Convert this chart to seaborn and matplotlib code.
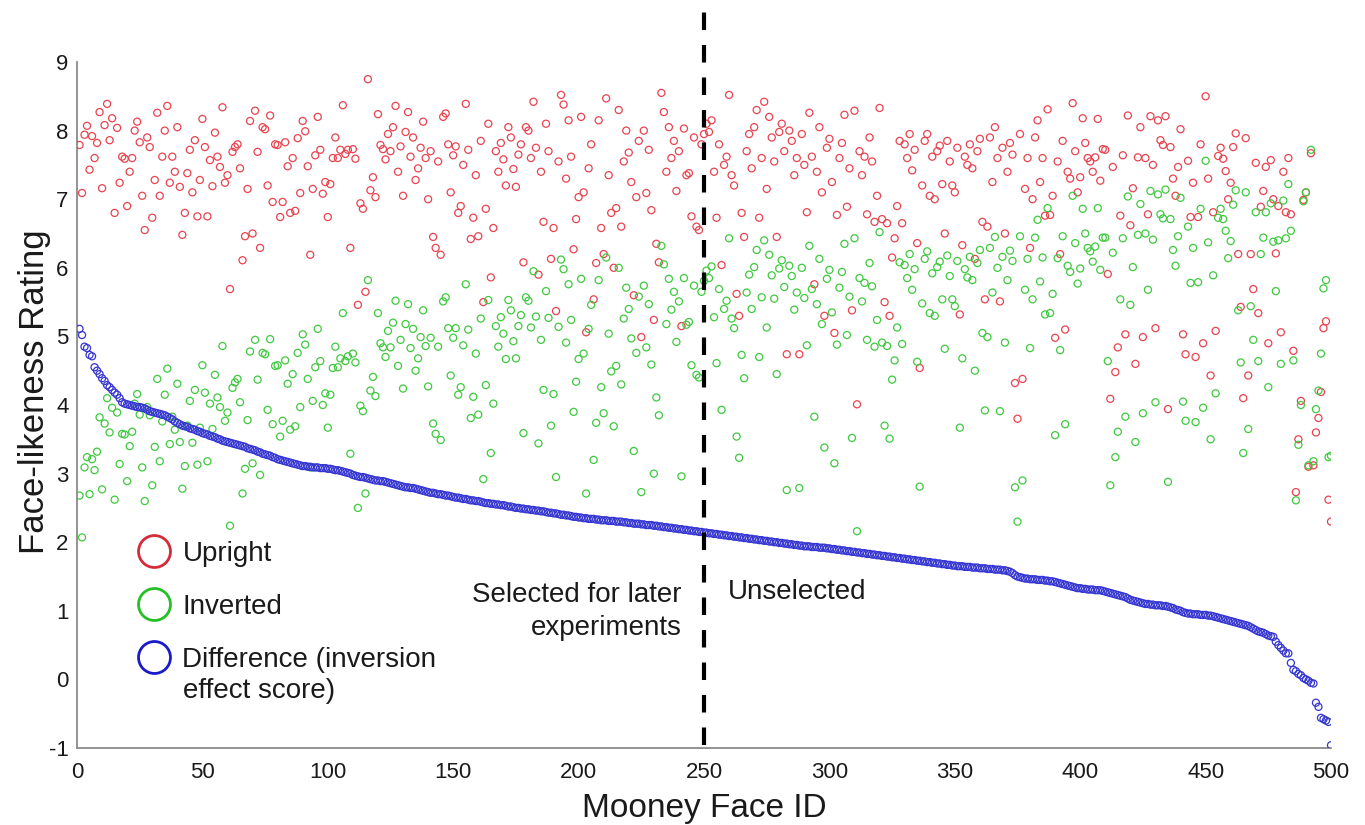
import numpy as np
import pandas as pd
import matplotlib
matplotlib.use("Agg")
import matplotlib.pyplot as plt
from matplotlib.lines import Line2D
import seaborn as sns

# ---------------- data ----------------
# inversion-effect score (upright - inverted), faces ordered by this score
difference = [
    5.11, 5.02, 4.85, 4.83, 4.73, 4.71, 4.55, 4.50, 4.45, 4.39,
    4.35, 4.29, 4.26, 4.22, 4.18, 4.15, 4.10, 4.04, 4.02, 4.01,
    4.00, 3.99, 3.98, 3.97, 3.97, 3.96, 3.95, 3.93, 3.91, 3.90,
    3.89, 3.88, 3.87, 3.86, 3.85, 3.83, 3.81, 3.79, 3.76, 3.74,
    3.72, 3.70, 3.69, 3.68, 3.66, 3.65, 3.64, 3.62, 3.61, 3.59,
    3.58, 3.57, 3.55, 3.54, 3.53, 3.51, 3.50, 3.48, 3.47, 3.46,
    3.45, 3.44, 3.43, 3.42, 3.41, 3.40, 3.39, 3.37, 3.36, 3.35,
    3.34, 3.32, 3.31, 3.29, 3.28, 3.27, 3.26, 3.24, 3.23, 3.21,
    3.20, 3.19, 3.18, 3.17, 3.16, 3.15, 3.14, 3.13, 3.12, 3.11,
    3.11, 3.10, 3.10, 3.09, 3.09, 3.09, 3.08, 3.08, 3.08, 3.07,
    3.07, 3.06, 3.05, 3.05, 3.04, 3.03, 3.02, 3.01, 3.00, 2.98,
    2.97, 2.96, 2.95, 2.95, 2.94, 2.93, 2.92, 2.91, 2.90, 2.90,
    2.89, 2.89, 2.88, 2.87, 2.86, 2.85, 2.84, 2.83, 2.82, 2.81,
    2.80, 2.80, 2.79, 2.79, 2.78, 2.77, 2.76, 2.75, 2.74, 2.73,
    2.72, 2.72, 2.71, 2.70, 2.70, 2.69, 2.68, 2.68, 2.67, 2.66,
    2.65, 2.65, 2.64, 2.63, 2.63, 2.62, 2.61, 2.61, 2.60, 2.60,
    2.59, 2.58, 2.57, 2.57, 2.56, 2.56, 2.55, 2.55, 2.54, 2.54,
    2.53, 2.52, 2.52, 2.51, 2.50, 2.50, 2.49, 2.49, 2.48, 2.48,
    2.47, 2.47, 2.46, 2.46, 2.45, 2.45, 2.44, 2.43, 2.43, 2.42,
    2.42, 2.41, 2.40, 2.40, 2.39, 2.39, 2.38, 2.37, 2.37, 2.36,
    2.36, 2.35, 2.35, 2.34, 2.34, 2.34, 2.33, 2.33, 2.32, 2.32,
    2.32, 2.31, 2.31, 2.31, 2.30, 2.30, 2.30, 2.29, 2.29, 2.28,
    2.28, 2.27, 2.27, 2.27, 2.26, 2.26, 2.25, 2.25, 2.25, 2.24,
    2.24, 2.23, 2.23, 2.22, 2.22, 2.21, 2.21, 2.20, 2.20, 2.19,
    2.19, 2.18, 2.18, 2.17, 2.17, 2.16, 2.16, 2.15, 2.15, 2.14,
    2.14, 2.13, 2.13, 2.12, 2.12, 2.11, 2.11, 2.10, 2.10, 2.09,
    2.09, 2.08, 2.08, 2.07, 2.07, 2.06, 2.06, 2.05, 2.05, 2.04,
    2.04, 2.03, 2.03, 2.02, 2.02, 2.01, 2.01, 2.00, 2.00, 1.99,
    1.99, 1.98, 1.98, 1.97, 1.97, 1.96, 1.96, 1.95, 1.95, 1.94,
    1.94, 1.94, 1.93, 1.93, 1.93, 1.92, 1.92, 1.92, 1.91, 1.91,
    1.90, 1.90, 1.89, 1.89, 1.88, 1.88, 1.87, 1.87, 1.86, 1.86,
    1.85, 1.85, 1.84, 1.84, 1.83, 1.83, 1.82, 1.82, 1.81, 1.81,
    1.80, 1.80, 1.79, 1.79, 1.78, 1.78, 1.77, 1.77, 1.76, 1.76,
    1.75, 1.75, 1.74, 1.74, 1.73, 1.73, 1.72, 1.72, 1.71, 1.71,
    1.70, 1.70, 1.69, 1.69, 1.68, 1.68, 1.67, 1.67, 1.66, 1.66,
    1.65, 1.65, 1.65, 1.64, 1.64, 1.64, 1.63, 1.63, 1.63, 1.62,
    1.62, 1.62, 1.61, 1.61, 1.61, 1.60, 1.60, 1.60, 1.59, 1.59,
    1.58, 1.57, 1.55, 1.52, 1.50, 1.49, 1.48, 1.47, 1.47, 1.46,
    1.46, 1.46, 1.45, 1.45, 1.45, 1.44, 1.44, 1.43, 1.43, 1.42,
    1.41, 1.40, 1.39, 1.38, 1.37, 1.36, 1.35, 1.34, 1.33, 1.33,
    1.32, 1.32, 1.31, 1.31, 1.31, 1.30, 1.30, 1.30, 1.29, 1.28,
    1.27, 1.26, 1.25, 1.24, 1.23, 1.22, 1.21, 1.20, 1.18, 1.16,
    1.15, 1.14, 1.13, 1.12, 1.11, 1.10, 1.10, 1.09, 1.09, 1.08,
    1.08, 1.08, 1.07, 1.07, 1.06, 1.05, 1.04, 1.02, 1.01, 1.00,
    0.98, 0.97, 0.96, 0.96, 0.95, 0.95, 0.95, 0.94, 0.94, 0.94,
    0.93, 0.93, 0.92, 0.91, 0.90, 0.89, 0.88, 0.87, 0.86, 0.85,
    0.84, 0.83, 0.82, 0.81, 0.80, 0.79, 0.78, 0.76, 0.74, 0.72,
    0.70, 0.69, 0.68, 0.66, 0.64, 0.63, 0.62, 0.55, 0.50, 0.46,
    0.42, 0.38, 0.38, 0.24, 0.14, 0.12, 0.08, 0.06, 0.02, 0.00,
    -0.02, -0.05, -0.06, -0.34, -0.40, -0.56, -0.58, -0.60, -0.62, -0.96,
]

# face-likeness rating of the upright image, same face order
upright = [
    7.79, 7.09, 7.94, 8.07, 7.43, 7.92, 7.60, 7.82, 8.27, 7.16,
    8.08, 8.39, 7.86, 8.18, 6.80, 8.04, 7.24, 7.62, 7.59, 6.90,
    7.40, 7.60, 8.00, 8.13, 7.83, 7.05, 6.55, 7.90, 7.76, 6.73,
    7.28, 8.26, 7.05, 7.62, 8.00, 8.36, 7.24, 7.62, 7.40, 8.05,
    7.18, 6.48, 6.80, 7.38, 7.72, 7.10, 7.86, 6.75, 7.28, 8.17,
    7.76, 6.75, 7.57, 7.19, 7.97, 7.62, 7.47, 8.34, 7.24, 7.35,
    5.69, 7.69, 7.76, 7.80, 7.45, 6.11, 6.46, 7.15, 8.14, 6.50,
    8.29, 7.69, 6.29, 8.05, 8.02, 7.20, 8.22, 6.96, 7.80, 7.79,
    6.74, 6.96, 7.83, 7.48, 6.80, 7.60, 6.83, 7.89, 7.09, 8.14,
    7.99, 7.48, 6.19, 7.15, 7.64, 8.20, 7.72, 7.08, 7.25, 6.74,
    7.22, 7.60, 7.90, 7.60, 7.72, 8.37, 7.66, 7.72, 6.29, 7.73,
    7.59, 5.46, 6.94, 6.86, 5.65, 8.75, 7.13, 7.32, 7.03, 8.24,
    7.79, 7.73, 7.58, 7.95, 7.70, 8.05, 8.36, 7.40, 7.77, 7.05,
    7.98, 8.27, 7.62, 7.90, 7.28, 7.45, 7.75, 8.13, 7.60, 7.00,
    7.70, 6.45, 6.29, 7.55, 6.19, 8.20, 8.25, 7.80, 7.10, 7.64,
    7.77, 6.80, 6.90, 7.50, 8.39, 7.72, 6.42, 6.73, 7.35, 6.46,
    7.85, 5.50, 6.86, 8.10, 5.86, 6.58, 7.70, 7.40, 7.82, 7.58,
    7.20, 8.05, 7.90, 7.44, 7.18, 7.65, 7.80, 6.08, 8.05, 8.00,
    7.60, 8.42, 7.75, 5.90, 7.40, 6.67, 8.10, 7.70, 6.13, 6.58,
    5.37, 7.55, 8.52, 8.38, 7.30, 8.15, 7.62, 6.27, 6.71, 7.03,
    8.20, 7.10, 5.06, 7.45, 7.80, 5.54, 6.07, 8.15, 6.58, 6.20,
    8.47, 7.35, 6.80, 6.00, 6.87, 8.30, 6.60, 7.55, 8.00, 7.68,
    7.25, 5.60, 7.03, 7.85, 4.99, 8.00, 7.09, 7.72, 6.84, 5.24,
    6.35, 6.08, 8.55, 8.27, 7.40, 8.05, 7.60, 7.85, 7.12, 7.70,
    5.15, 8.03, 7.35, 7.38, 6.75, 7.90, 6.60, 6.55, 7.80, 7.95,
    8.10, 7.98, 8.15, 7.40, 6.73, 7.80, 6.04, 7.50, 7.62, 8.52,
    7.35, 7.20, 5.62, 5.30, 6.80, 6.45, 7.70, 7.95, 7.45, 8.05,
    8.30, 6.73, 7.60, 8.42, 7.15, 8.20, 7.90, 7.55, 6.45, 7.98,
    8.10, 7.70, 4.74, 8.00, 7.85, 7.35, 7.60, 4.74, 7.95, 7.50,
    6.81, 8.26, 7.62, 5.76, 7.40, 8.05, 7.10, 5.30, 7.75, 7.88,
    7.25, 5.05, 6.77, 7.60, 7.82, 8.23, 6.89, 7.45, 5.38, 8.29,
    4.01, 7.70, 7.35, 7.62, 6.78, 7.90, 7.55, 6.67, 7.05, 8.33,
    6.71, 5.50, 6.65, 5.30, 6.15, 6.43, 6.90, 7.85, 6.65, 7.80,
    7.60, 7.95, 7.42, 7.72, 6.36, 4.54, 7.20, 7.85, 7.95, 7.05,
    7.62, 7.00, 7.70, 7.78, 7.22, 6.50, 7.85, 7.55, 7.20, 7.10,
    7.75, 5.32, 6.33, 7.62, 7.50, 7.80, 7.45, 6.13, 7.70, 7.88,
    6.67, 5.54, 6.60, 7.90, 7.25, 8.05, 7.60, 5.51, 7.75, 6.50,
    7.40, 7.82, 7.65, 4.32, 3.80, 7.95, 4.38, 7.15, 7.60, 6.29,
    7.00, 7.90, 8.15, 7.25, 7.60, 6.76, 8.31, 6.77, 7.05, 4.98,
    7.55, 6.20, 7.85, 5.10, 7.40, 7.30, 8.40, 7.70, 7.10, 7.32,
    8.18, 7.82, 7.60, 7.55, 7.40, 7.61, 8.17, 7.27, 7.73, 7.72,
    5.91, 4.09, 7.47, 4.48, 4.84, 6.76, 7.64, 5.03, 8.22, 6.62,
    7.16, 4.60, 7.61, 8.05, 4.99, 7.60, 6.78, 8.21, 7.50, 5.12,
    8.15, 7.86, 7.79, 8.21, 3.94, 7.76, 7.30, 7.05, 7.47, 8.02,
    5.03, 4.74, 7.56, 6.74, 7.24, 4.70, 6.74, 7.80, 4.90, 8.50,
    7.30, 4.43, 6.81, 5.08, 7.63, 7.75, 7.59, 7.41, 7.00, 7.24,
    7.76, 7.96, 6.20, 5.43, 4.10, 7.89, 4.43, 6.20, 5.69, 7.53,
    5.34, 6.89, 7.12, 7.47, 4.90, 7.57, 7.00, 6.21, 6.90, 5.06,
    7.40, 6.81, 7.60, 6.78, 4.79, 2.73, 3.50, 4.06, 6.99, 7.10,
    3.10, 7.67, 3.12, 3.60, 3.81, 4.19, 5.12, 5.22, 2.62, 2.30,
]

assert len(difference) == len(upright) == 500

face_id = list(range(1, len(upright) + 1))
# inverted rating follows from the definition of the difference score
inverted = [round(u - d, 2) for u, d in zip(upright, difference)]

series_labels = ["Upright", "Inverted", "Difference (inversion", "effect score)"]
x_ticks = [0, 50, 100, 150, 200, 250, 300, 350, 400, 450, 500]
y_ticks = [-1, 0, 1, 2, 3, 4, 5, 6, 7, 8, 9]
split_id = 250
left_text = "Selected for later\nexperiments"
right_text = "Unselected"

df = pd.DataFrame({"id": face_id, "upright": upright,
                   "inverted": inverted, "difference": difference})

# ---------------- style ----------------
sns.set_style("white")
plt.rcParams["font.family"] = ["Liberation Sans", "DejaVu Sans"]
plt.rcParams["axes.unicode_minus"] = False

W, H = 1365, 825
fig = plt.figure(figsize=(W / 100, H / 100), dpi=100)
ax = fig.add_axes([77 / W, 1 - 748 / H, (1331 - 77) / W, (748 - 62) / H])

pt_red, pt_green, pt_blue = "#e8434f", "#3fc93f", "#3535d2"
lg_red, lg_green, lg_blue = "#d52a3a", "#25c025", "#1a1ac9"

for col, c in [("upright", pt_red), ("inverted", pt_green), ("difference", pt_blue)]:
    sns.scatterplot(data=df, x="id", y=col, ax=ax, marker="o", s=26,
                    facecolors="none", edgecolor=c, linewidth=0.9,
                    legend=False, zorder=3)

ax.set_xlim(0, 500)
ax.set_ylim(-1, 9)
ax.set_xticks(x_ticks)
ax.set_yticks(y_ticks)

for s in ["top", "right"]:
    ax.spines[s].set_visible(False)
for s in ["left", "bottom"]:
    ax.spines[s].set_color("#8a8a8a")
    ax.spines[s].set_linewidth(1.3)

ax.tick_params(axis="both", direction="in", length=9, width=1.2,
               color="#8a8a8a", labelsize=16, labelcolor="#1a1a1a")
ax.tick_params(axis="x", pad=10)
ax.tick_params(axis="y", pad=6)

ax.set_xlabel("Mooney Face ID", fontsize=24, color="#1a1a1a", labelpad=7)
ax.set_ylabel("Face-likeness Rating", fontsize=25, color="#1a1a1a")
ax.yaxis.set_label_coords(-0.021, 0.519)

# split line
vline = ax.axvline(split_id, ymin=0.005, ymax=(748 - 10) / (748 - 62),
                   color="black", linewidth=3.0, clip_on=False, zorder=4)
vline.set_dashes([4.2, 3.6])

ax.text(241, 0.99, left_text, ha="right", va="center", fontsize=20,
        color="#1a1a1a", linespacing=1.36, multialignment="right")
ax.text(259.5, 1.27, right_text, ha="left", va="center", fontsize=20,
        color="#1a1a1a")

handles = [
    Line2D([], [], linestyle="none", marker="o", markersize=23,
           markerfacecolor="none", markeredgecolor=lg_red, markeredgewidth=2.0),
    Line2D([], [], linestyle="none", marker="o", markersize=23,
           markerfacecolor="none", markeredgecolor=lg_green, markeredgewidth=2.0),
    Line2D([], [], linestyle="none", marker="o", markersize=23,
           markerfacecolor="none", markeredgecolor=lg_blue, markeredgewidth=2.0),
]
leg = ax.legend(handles, series_labels[:3], loc="upper left",
                bbox_to_anchor=(138 / W, 1 - 541 / H), bbox_transform=fig.transFigure,
                frameon=False, fontsize=20, handlelength=1.15, handletextpad=0.45,
                labelspacing=0.97, borderpad=0, borderaxespad=0)
for t in leg.get_texts():
    t.set_color("#1a1a1a")
fig.text(183 / W, 1 - 691 / H, series_labels[3], ha="left", va="center",
         fontsize=20, color="#1a1a1a")

fig.savefig("out.png", dpi=100, facecolor="white")
